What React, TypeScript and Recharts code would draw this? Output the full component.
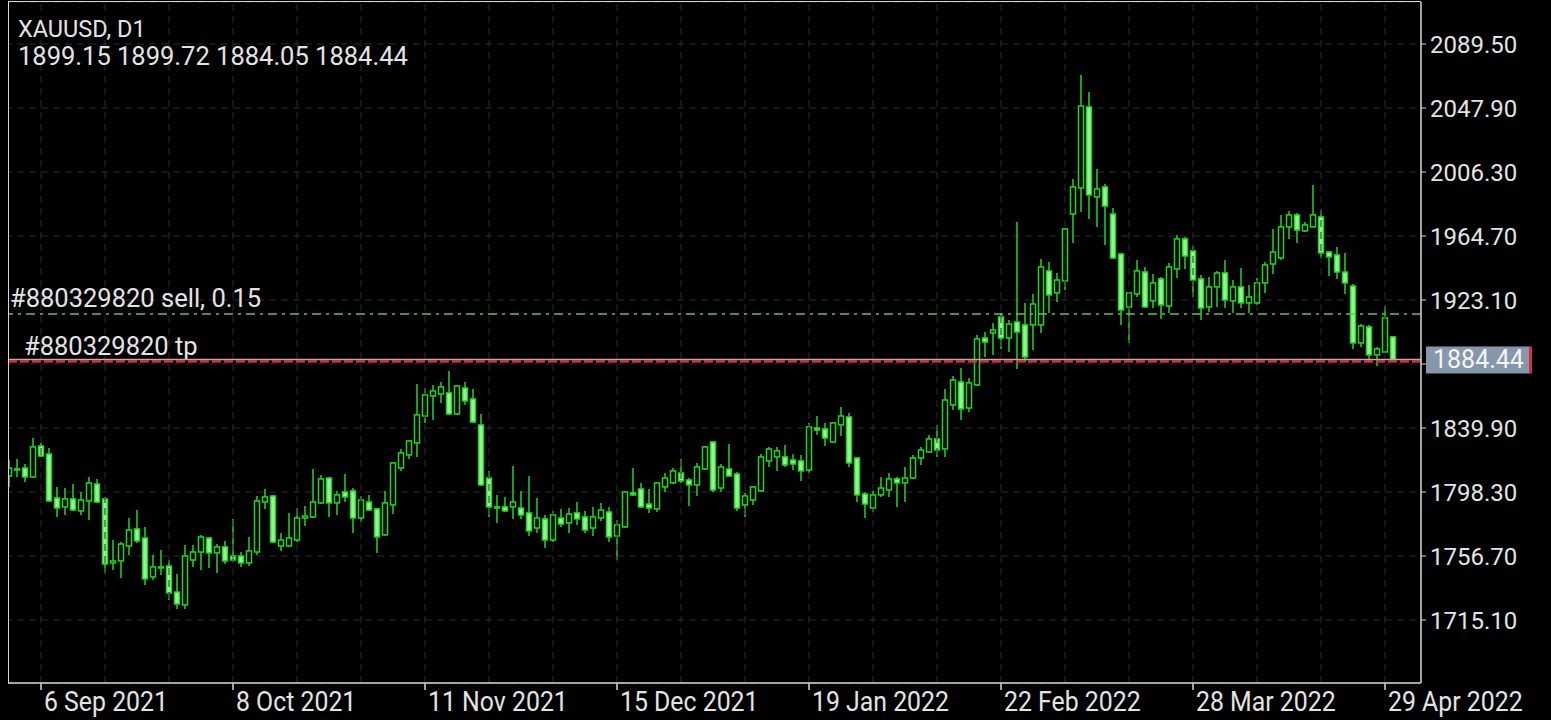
import { ComposedChart, Bar, XAxis, YAxis, CartesianGrid, ReferenceLine } from "recharts";

// daily bars (oldest first)
const opens = [
  1808.7, 1812.6, 1813.9, 1808.1, 1828.2, 1823.0, 1794.4, 1788.6, 1793.8, 1786.0,
  1792.5, 1803.5, 1793.8, 1752.2, 1753.5, 1763.2, 1774.3, 1768.4, 1743.1, 1749.6,
  1750.2, 1733.3, 1724.9, 1754.1, 1759.3, 1768.4, 1758.7, 1762.6, 1756.7, 1756.7,
  1752.2, 1759.3, 1791.8, 1795.7, 1763.2, 1763.2, 1767.1, 1781.4, 1782.1, 1791.2,
  1807.4, 1791.2, 1798.3, 1799.0, 1781.4, 1791.8, 1787.3, 1770.4, 1789.9, 1813.9,
  1822.4, 1830.2, 1847.7, 1860.7, 1862.0, 1862.7, 1849.0, 1865.9, 1858.8, 1841.9,
  1807.4, 1788.6, 1788.6, 1788.6, 1787.9, 1784.7, 1774.9, 1780.8, 1767.1, 1781.4,
  1778.2, 1784.7, 1782.1, 1774.9, 1781.4, 1785.3, 1769.7, 1775.6, 1797.7, 1800.3,
  1790.5, 1787.3, 1801.6, 1804.2, 1810.7, 1806.1, 1802.9, 1813.3, 1830.8, 1800.9,
  1813.3, 1810.0, 1789.9, 1793.1, 1799.0, 1818.5, 1821.1, 1821.1, 1819.1, 1818.5,
  1812.6, 1839.9, 1839.3, 1830.8, 1841.9, 1847.1, 1820.4, 1797.0, 1787.9, 1796.4,
  1799.6, 1806.8, 1804.2, 1807.4, 1820.4, 1824.3, 1832.8, 1826.3, 1854.9, 1869.8,
  1852.9, 1867.9, 1898.4, 1901.7, 1912.1, 1898.4, 1908.8, 1906.9, 1906.9, 1906.9,
  1942.0, 1927.7, 1935.5, 1979.0, 1995.9, 2048.6, 1990.1, 1996.6, 1979.0, 1953.0,
  1918.6, 1927.0, 1941.3, 1922.5, 1936.8, 1919.2, 1943.3, 1962.8, 1955.0, 1936.8,
  1918.6, 1931.6, 1940.7, 1922.5, 1931.6, 1921.2, 1921.2, 1934.2, 1946.5, 1950.4,
  1970.6, 1978.4, 1968.0, 1970.6, 1977.1, 1954.3, 1952.4, 1941.3, 1932.2, 1895.2,
  1905.6, 1887.4, 1889.3, 1899.15,
];
const highs = [
  1819.1, 1819.8, 1816.5, 1833.4, 1830.2, 1826.9, 1801.6, 1800.9, 1803.5, 1798.3,
  1808.1, 1806.8, 1795.1, 1767.1, 1765.8, 1781.4, 1786.6, 1775.6, 1757.4, 1760.6,
  1754.1, 1745.0, 1763.9, 1763.9, 1770.4, 1769.1, 1764.5, 1766.5, 1780.8, 1759.3,
  1769.1, 1795.7, 1800.3, 1796.4, 1771.7, 1784.7, 1787.9, 1789.2, 1813.3, 1809.4,
  1808.1, 1799.0, 1810.0, 1800.9, 1795.7, 1796.4, 1787.9, 1799.0, 1817.8, 1826.3,
  1832.1, 1868.5, 1865.9, 1867.9, 1869.8, 1877.0, 1867.9, 1869.8, 1865.3, 1849.0,
  1812.0, 1796.4, 1795.1, 1815.2, 1799.0, 1808.7, 1794.4, 1783.4, 1786.0, 1787.3,
  1787.9, 1791.8, 1786.0, 1788.6, 1791.2, 1788.6, 1780.1, 1799.0, 1813.9, 1804.2,
  1800.3, 1804.8, 1810.7, 1813.9, 1819.8, 1807.4, 1817.2, 1828.2, 1831.5, 1816.5,
  1829.5, 1811.3, 1797.7, 1802.2, 1823.0, 1827.6, 1827.6, 1828.9, 1822.9, 1822.4,
  1843.2, 1847.7, 1843.2, 1843.8, 1853.6, 1849.7, 1821.1, 1798.3, 1799.0, 1808.1,
  1810.7, 1808.1, 1814.6, 1822.4, 1827.6, 1835.4, 1841.9, 1865.3, 1873.7, 1878.9,
  1872.4, 1900.4, 1902.3, 1908.2, 1914.7, 1910.1, 1973.8, 1921.2, 1927.0, 1949.8,
  1947.8, 1940.7, 1969.9, 2001.8, 2069.4, 2058.3, 2008.3, 1998.5, 1982.9, 1953.7,
  1928.3, 1949.1, 1944.6, 1940.0, 1938.1, 1947.2, 1965.4, 1964.1, 1958.2, 1939.4,
  1938.1, 1942.0, 1949.1, 1936.1, 1943.9, 1932.9, 1937.4, 1947.8, 1969.3, 1978.4,
  1981.0, 1979.7, 1973.8, 1997.9, 1981.6, 1955.0, 1957.6, 1953.7, 1933.5, 1907.5,
  1906.9, 1892.6, 1919.2, 1899.72,
];
const lows = [
  1801.6, 1808.1, 1804.8, 1807.5, 1821.0, 1791.8, 1782.1, 1783.4, 1786.0, 1783.4,
  1780.1, 1791.2, 1745.7, 1747.6, 1742.4, 1757.4, 1765.2, 1737.9, 1741.1, 1744.4,
  1728.1, 1722.3, 1722.3, 1749.6, 1747.6, 1748.9, 1745.7, 1751.5, 1752.8, 1749.6,
  1750.2, 1757.4, 1787.3, 1765.2, 1760.0, 1762.6, 1765.8, 1776.2, 1781.5, 1790.6,
  1782.1, 1783.4, 1791.8, 1771.7, 1778.8, 1786.0, 1758.7, 1769.8, 1784.0, 1812.0,
  1819.8, 1821.1, 1843.2, 1845.1, 1856.2, 1848.4, 1848.4, 1854.9, 1843.2, 1802.3,
  1782.1, 1778.2, 1785.3, 1780.8, 1780.8, 1769.7, 1771.7, 1761.9, 1765.8, 1775.6,
  1771.7, 1776.9, 1771.7, 1769.7, 1779.5, 1765.8, 1754.1, 1775.0, 1795.7, 1788.0,
  1784.7, 1785.3, 1798.3, 1803.5, 1804.2, 1789.2, 1795.7, 1812.6, 1798.3, 1798.3,
  1808.1, 1786.0, 1782.1, 1789.9, 1798.4, 1814.6, 1812.0, 1814.6, 1812.6, 1805.5,
  1810.7, 1835.4, 1828.2, 1830.2, 1834.7, 1814.6, 1791.8, 1781.4, 1785.3, 1795.1,
  1795.1, 1788.6, 1791.8, 1806.8, 1815.9, 1823.7, 1821.1, 1821.1, 1851.6, 1845.1,
  1850.3, 1867.3, 1886.1, 1887.4, 1891.3, 1889.3, 1878.3, 1882.8, 1890.6, 1901.7,
  1914.7, 1921.8, 1929.6, 1960.2, 1980.3, 1975.8, 1970.6, 1958.9, 1949.8, 1906.9,
  1895.2, 1925.1, 1917.9, 1917.9, 1910.8, 1914.7, 1937.4, 1943.2, 1925.1, 1910.1,
  1915.3, 1918.6, 1917.9, 1914.7, 1917.9, 1914.7, 1919.9, 1927.7, 1940.0, 1949.1,
  1962.8, 1960.2, 1967.3, 1970.0, 1950.4, 1938.7, 1936.8, 1927.0, 1891.3, 1892.6,
  1882.2, 1880.2, 1888.7, 1884.05,
];
const closes = [
  1813.9, 1813.3, 1808.1, 1827.6, 1821.7, 1792.5, 1787.9, 1793.8, 1786.6, 1793.1,
  1804.2, 1791.8, 1751.5, 1753.5, 1764.5, 1773.6, 1766.5, 1741.8, 1749.6, 1748.9,
  1732.7, 1725.5, 1756.7, 1759.3, 1769.1, 1758.7, 1762.6, 1753.5, 1754.1, 1752.2,
  1760.0, 1792.5, 1795.1, 1765.8, 1767.1, 1768.4, 1781.4, 1782.7, 1791.8, 1806.8,
  1791.2, 1796.4, 1795.1, 1781.4, 1793.1, 1786.6, 1769.1, 1791.2, 1817.2, 1823.7,
  1831.5, 1848.4, 1861.4, 1864.0, 1866.6, 1849.0, 1867.2, 1857.5, 1843.8, 1802.9,
  1788.6, 1787.9, 1786.0, 1791.8, 1783.4, 1773.0, 1781.4, 1767.1, 1783.4, 1777.5,
  1784.0, 1780.8, 1773.6, 1782.1, 1786.6, 1769.1, 1776.9, 1798.3, 1796.4, 1788.6,
  1787.9, 1804.2, 1807.4, 1812.0, 1805.5, 1802.9, 1814.6, 1827.6, 1799.6, 1814.6,
  1808.7, 1787.9, 1795.7, 1801.6, 1821.1, 1826.3, 1825.0, 1815.9, 1816.5, 1812.0,
  1840.6, 1838.6, 1833.4, 1843.2, 1847.7, 1817.2, 1796.4, 1790.5, 1796.4, 1800.9,
  1806.8, 1804.2, 1807.4, 1820.4, 1825.6, 1832.8, 1825.6, 1858.1, 1871.1, 1852.3,
  1869.2, 1897.8, 1895.8, 1903.6, 1898.4, 1907.5, 1902.3, 1886.1, 1920.5, 1944.6,
  1926.4, 1936.1, 1969.3, 1996.6, 2049.2, 1991.4, 1995.3, 1984.2, 1950.4, 1916.6,
  1927.7, 1942.0, 1918.6, 1934.2, 1919.9, 1944.6, 1962.8, 1951.7, 1936.1, 1917.9,
  1931.6, 1940.7, 1923.1, 1931.6, 1921.2, 1925.1, 1934.2, 1945.9, 1954.3, 1970.6,
  1978.4, 1968.6, 1971.9, 1978.4, 1953.7, 1951.1, 1941.3, 1934.2, 1895.2, 1906.2,
  1887.4, 1891.3, 1911.4, 1884.44,
];

const symbol = "XAUUSD";
const timeframe = "D1";

// date labels and the bar they sit on
const tickIdx = [4, 28, 52, 76, 100, 124, 148, 172];
const tickLabels = [
  "6 Sep 2021", "8 Oct 2021", "11 Nov 2021", "15 Dec 2021",
  "19 Jan 2022", "22 Feb 2022", "28 Mar 2022", "29 Apr 2022",
];
const gridIdx = [4, 12, 20, 28, 36, 44, 52, 60, 68, 76, 84, 92, 100, 108, 116, 124, 132, 140, 148, 156, 164, 172];
const priceTicks = [2089.5, 2047.9, 2006.3, 1964.7, 1923.1, 1881.5, 1839.9, 1798.3, 1756.7, 1715.1];
const hiddenTick = 1881.5;
const yDomain = [1674.15, 2116.8];

const orderId = "#880329820";
const sellPrice = 1914.0;
const sellLots = 0.15;
const tpPrice = 1883.1;
const bidPrice = closes[closes.length - 1];
const emptySlots = 3;

const GREEN = "#25d325";
const BEAR_FILL = "#98ef98";
const TEXT = "#e4e4e4";
const FONT = "Roboto, 'Noto Sans', sans-serif";

const data = [
  ...opens.map((o, i) => ({
    idx: i,
    open: o,
    high: highs[i],
    low: lows[i],
    close: closes[i],
    range: [lows[i], highs[i]],
  })),
  ...Array.from({ length: emptySlots }, (_, k) => ({ idx: opens.length + k })),
];

const Candle = (props: any) => {
  const { x, y, width, height, payload } = props;
  if (!payload || payload.open == null) return null;
  const { open, close, high, low } = payload;
  const top = Math.min(y, y + height);
  const h = Math.abs(height);
  const span = high - low || 1;
  const py = (v: number) => top + ((high - v) / span) * h;
  const cx = x + width / 2;
  const bodyTop = py(Math.max(open, close));
  const bodyBot = py(Math.min(open, close));
  const isUp = close > open;
  return (
    <g>
      <line x1={cx} x2={cx} y1={top} y2={top + h} stroke={GREEN} strokeWidth={1.5} />
      <rect
        x={cx - 2.5}
        y={bodyTop}
        width={5}
        height={Math.max(bodyBot - bodyTop, 1)}
        fill={isUp ? "#000" : BEAR_FILL}
        stroke={GREEN}
        strokeWidth={1.5}
      />
    </g>
  );
};

const DateTick = (props: any) => {
  const { x, y, payload } = props;
  const label = tickLabels[tickIdx.indexOf(payload.value)];
  if (!label) return null;
  return (
    <g>
      <line x1={x} x2={x} y1={y} y2={y + 7} stroke="#d8d8d8" strokeWidth={1.5} />
      <text
        x={0}
        y={0}
        transform={`translate(${x + 3}, ${y + 28}) scale(0.92, 1)`}
        fill={TEXT}
        fontSize={27}
        fontFamily={FONT}
      >
        {label}
      </text>
    </g>
  );
};

const SellLabel = (props: any) => {
  const { viewBox } = props;
  if (!viewBox) return null;
  return (
    <text x={viewBox.x + 5} y={viewBox.y - 7} fill={TEXT} fontSize={25.5} fontFamily={FONT}>
      {`${orderId} sell, ${sellLots.toFixed(2)}`}
    </text>
  );
};

const TpLabel = (props: any) => {
  const { viewBox } = props;
  if (!viewBox) return null;
  return (
    <text x={viewBox.x + 19} y={viewBox.y - 7} fill={TEXT} fontSize={25.5} fontFamily={FONT}>
      {`${orderId} tp`}
    </text>
  );
};

const PriceTag = (props: any) => {
  const { viewBox } = props;
  if (!viewBox) return null;
  const left = viewBox.x + viewBox.width + 5;
  return (
    <g>
      <rect x={left} y={viewBox.y - 13} width={104} height={27} fill="#8797ab" />
      <rect x={left + 103} y={viewBox.y - 13} width={3} height={27} fill="#d0303a" />
      <text x={left + 7} y={viewBox.y + 9} fill="#f4f4f4" fontSize={25} fontFamily={FONT}>
        {bidPrice.toFixed(2)}
      </text>
    </g>
  );
};

export default function App() {
  const last = opens.length - 1;
  const ohlc = [opens[last], highs[last], lows[last], closes[last]].map((v) => v.toFixed(2)).join(" ");

  return (
    <div
      style={{
        position: "fixed",
        left: 0,
        top: 0,
        width: 1551,
        height: 720,
        background: "#000",
        overflow: "hidden",
      }}
    >
      <ComposedChart
        width={1551}
        height={720}
        data={data}
        margin={{ top: 2, right: 0, bottom: 0, left: 5 }}
        barCategoryGap={0}
        barGap={0}
      >
        <CartesianGrid vertical={false} stroke="#2c2c2c" strokeDasharray="7 5" />
        {gridIdx.map((g) => (
          <ReferenceLine key={g} x={g} stroke="#2c2c2c" strokeDasharray="7 5" />
        ))}

        <XAxis
          dataKey="idx"
          type="category"
          ticks={tickIdx}
          interval={0}
          height={37}
          tickSize={0}
          tickMargin={0}
          tickLine={false}
          axisLine={{ stroke: "#d8d8d8", strokeWidth: 1.5 }}
          tick={<DateTick />}
        />
        <YAxis
          orientation="right"
          type="number"
          domain={yDomain}
          allowDataOverflow={true}
          ticks={priceTicks}
          interval={0}
          width={130}
          tickSize={5}
          tickMargin={4}
          axisLine={{ stroke: "#d8d8d8", strokeWidth: 1.5 }}
          tickLine={{ stroke: "#d8d8d8" }}
          tick={{ fill: TEXT, fontSize: 24, fontFamily: FONT }}
          tickFormatter={(v: number) => (v === hiddenTick ? "" : v.toFixed(2))}
        />

        <ReferenceLine
          y={sellPrice}
          stroke="#5fc05f"
          strokeWidth={1.5}
          strokeDasharray="9 5 3 5"
          label={<SellLabel />}
        />
        <ReferenceLine y={tpPrice} stroke="#c8303c" strokeWidth={2.5} strokeDasharray="9 3" label={<TpLabel />} />
        <ReferenceLine y={bidPrice} stroke="#d6a0a6" strokeWidth={1.5} label={<PriceTag />} />

        <Bar dataKey="range" shape={<Candle />} isAnimationActive={false} />
      </ComposedChart>

      <div style={{ position: "absolute", left: 0, top: 0, width: 8, height: 684, background: "#000" }} />
      <div
        style={{
          position: "absolute",
          left: 8,
          top: 1,
          width: 1413,
          height: 682,
          borderLeft: "1.5px solid #d8d8d8",
          borderTop: "1.5px solid #d8d8d8",
          boxSizing: "border-box",
          pointerEvents: "none",
        }}
      />
      <svg style={{ position: "absolute", left: 0, top: 0 }} width={520} height={80}>
        <text x={18} y={37} fill={TEXT} fontSize={23.5} fontFamily={FONT}>
          {`${symbol}, ${timeframe}`}
        </text>
        <text x={18} y={64.5} fill={TEXT} fontSize={25.5} fontFamily={FONT}>
          {ohlc}
        </text>
      </svg>
    </div>
  );
}
